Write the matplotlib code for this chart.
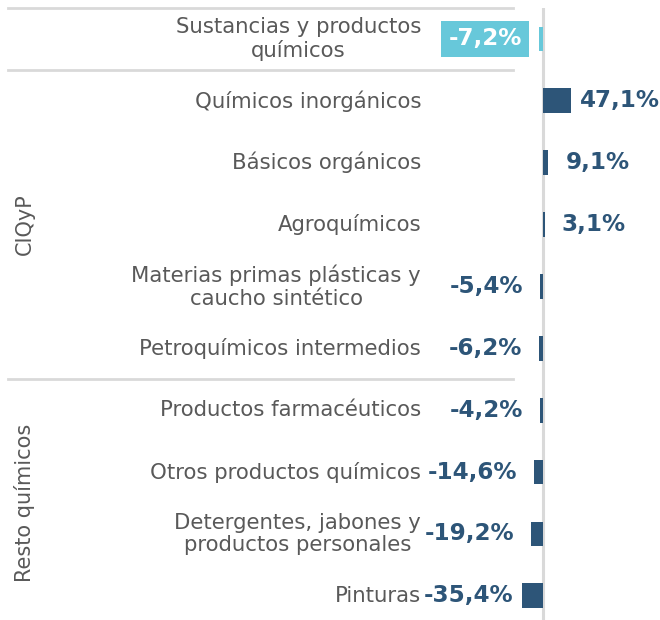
import matplotlib
matplotlib.use("Agg")
import matplotlib.pyplot as plt
from matplotlib.transforms import blended_transform_factory

# data
categories = [
    "Sustancias y productos\nquímicos",
    "Químicos inorgánicos",
    "Básicos orgánicos",
    "Agroquímicos",
    "Materias primas plásticas y\ncaucho sintético",
    "Petroquímicos intermedios",
    "Productos farmacéuticos",
    "Otros productos químicos",
    "Detergentes, jabones y\nproductos personales",
    "Pinturas",
]
values = [-7.2, 47.1, 9.1, 3.1, -5.4, -6.2, -4.2, -14.6, -19.2, -35.4]
group_names = ["CIQyP", "Resto químicos"]
group_rows = [(1, 5), (6, 9)]
separator_rows = [-0.5, 0.5, 5.5]

DARK = "#2D5578"
LIGHT = "#67C8DA"
GREY_TXT = "#595959"
GREY_LINE = "#D9D9D9"

W, H = 660, 620
ZERO_PX = 543      # pixel of the zero line
PX_PER_UNIT = 0.6  # pixels per percentage point

fig = plt.figure(figsize=(W / 100, H / 100), dpi=100)
ax = fig.add_axes([0, 0, 1, 1 - 8 / H])
ax.set_xlim(-ZERO_PX / PX_PER_UNIT, (W - ZERO_PX) / PX_PER_UNIT)
n = len(values)
ax.set_ylim(n - 1 + 0.39, -0.5)
ax.axis("off")

ypos = list(range(n))
colors = [LIGHT] + [DARK] * (n - 1)
ax.axvline(0, color=GREY_LINE, lw=2.2, zorder=0)
ax.barh(ypos, values, height=0.4, color=colors, zorder=2)

fx = blended_transform_factory(fig.transFigure, ax.transData)

# category labels
for y, cat in zip(ypos, categories):
    ax.text(421 / W, y, cat, transform=fx, ha="right", va="center",
            multialignment="center", fontsize=15.3, color=GREY_TXT,
            linespacing=1.18)

# value labels
off = 17 / PX_PER_UNIT
pos_max = (580 - ZERO_PX) / PX_PER_UNIT
neg_min = (513 - ZERO_PX) / PX_PER_UNIT
for y, v in zip(ypos, values):
    txt = f"{v:.1f}%".replace(".", ",")
    if v >= 0:
        x, ha = min(v + off, pos_max), "left"
    else:
        x, ha = max(v - off, neg_min), "right"
    if y == 0:
        ax.text(x, y, txt, ha=ha, va="center", fontsize=16.6, fontweight="bold",
                color="white",
                bbox=dict(boxstyle="square,pad=0.3", fc=LIGHT, ec="none"))
    else:
        ax.text(x, y, txt, ha=ha, va="center", fontsize=16.6, fontweight="bold",
                color=DARK)

# separators
for r in separator_rows:
    ax.plot([8 / W, 513 / W], [r, r], transform=fx, color=GREY_LINE, lw=2,
            clip_on=False)

# group labels
for name, (a, b) in zip(group_names, group_rows):
    ax.text(25 / W, (a + b) / 2, name, transform=fx, rotation=90,
            ha="center", va="center", fontsize=15, color=GREY_TXT)

fig.savefig("out.png", dpi=100)
